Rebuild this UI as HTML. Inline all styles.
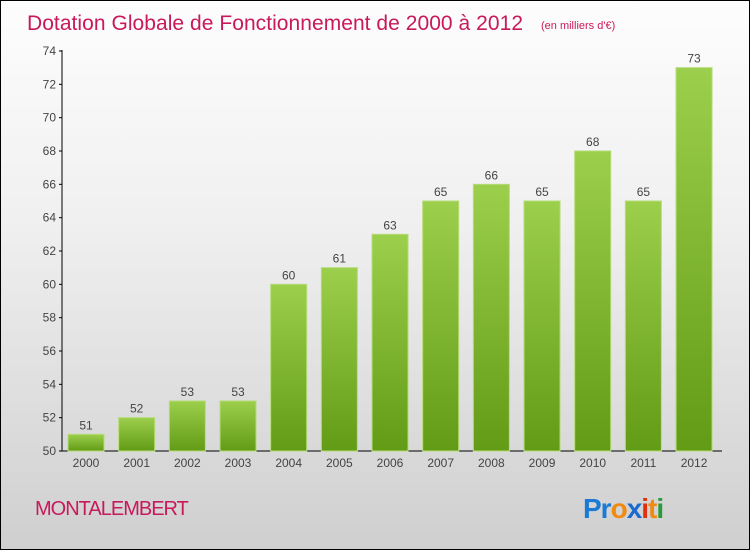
<!DOCTYPE html>
<html><head><meta charset="utf-8"><style>
body{margin:0;}
#c{position:relative;width:748px;height:548px;border:1px solid #000;background:linear-gradient(#fdfdfd,#f0f0f0 40%,#cfcfcf);font-family:"Liberation Sans",sans-serif;overflow:hidden}
</style></head><body>
<div id="c">
<svg width="748" height="548" style="position:absolute;left:0;top:0">
<defs><linearGradient id="g" x1="0" y1="0" x2="0" y2="1"><stop offset="0" stop-color="#9ccf4c"/><stop offset="1" stop-color="#629b16"/></linearGradient></defs>
<text x="26" y="29" font-size="21" fill="#c8195a" textLength="496">Dotation Globale de Fonctionnement de 2000 à 2012</text>
<text x="540" y="28" font-size="11" fill="#c8195a">(en milliers d'€)</text>
<g id="ax"></g><g id="bars"></g>
<text x="34" y="514" font-size="20" fill="#c8195a" letter-spacing="-1">MONTALEMBERT</text>
<text x="582" y="517" font-size="28" font-weight="bold" letter-spacing="-1"><tspan fill="#1a7ad4">Pr</tspan><tspan fill="#f08a10">o</tspan><tspan fill="#1a6ad0">x</tspan><tspan fill="#e03010">i</tspan><tspan fill="#f08a10">t</tspan><tspan fill="#2a9a3a">i</tspan></text>
</svg></div>
<script>
const years=["2000","2001","2002","2003","2004","2005","2006","2007","2008","2009","2010","2011","2012"];
const values=[51,52,53,53,60,61,63,65,66,65,68,65,73];
const ticks=[50,52,54,56,58,60,62,64,66,68,70,72,74];
const NS="http://www.w3.org/2000/svg";
const y=v=>450-(v-50)*400/24, x=i=>85+i*50.67;
function mk(t,a,p){const e=document.createElementNS(NS,t);for(const k in a)e.setAttribute(k,a[k]);p.appendChild(e);return e;}
const ax=document.getElementById('ax'),bg=document.getElementById('bars');
let l=mk('line',{x1:61,y1:49,x2:61,y2:450,stroke:'#000'},ax);


l=mk('line',{x1:61,y1:450,x2:721,y2:450,stroke:'#000'},ax);


ticks.forEach(t=>{mk('line',{x1:58,x2:61,y1:y(t),y2:y(t),stroke:'#000'},ax);
const e=mk('text',{x:55,y:y(t)+4,'font-size':12,fill:'#444','text-anchor':'end'},ax);e.textContent=t;

});
years.forEach((yr,i)=>{const v=values[i];
const r=mk('rect',{x:x(i)-18,y:y(v),width:36,height:450-y(v),fill:'url(#g)',stroke:'#b5dc78','stroke-width':1},bg);


const t=mk('text',{x:x(i),y:y(v)-5,'font-size':12,fill:'#444','text-anchor':'middle'},bg);t.textContent=v;


const xl=mk('text',{x:x(i),y:466,'font-size':12,fill:'#444','text-anchor':'middle'},bg);xl.textContent=yr;

});
</script>
</body></html>
